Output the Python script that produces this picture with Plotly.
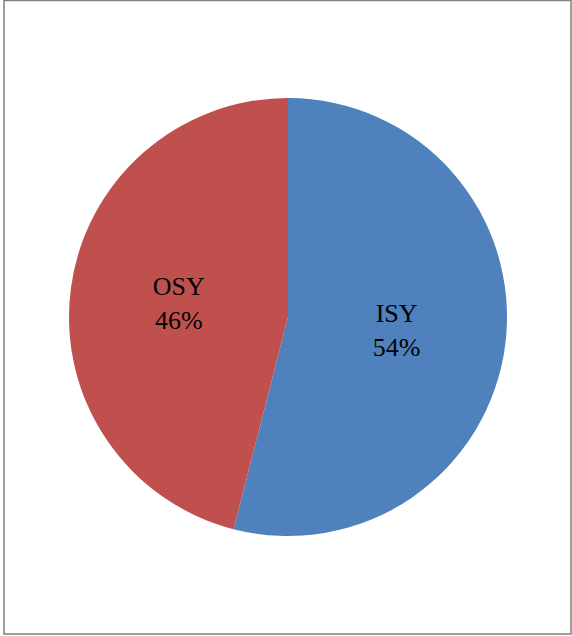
import plotly.graph_objects as go

labels = ["ISY", "OSY"]
values = [54, 46]
colors = ["#4F81BD", "#C0504D"]

fig = go.Figure(go.Pie(
    labels=labels,
    values=values,
    marker=dict(colors=colors, line=dict(width=0)),
    sort=False,
    direction="clockwise",
    rotation=0,
    textinfo="label+percent",
    texttemplate="%{label}<br>%{percent:.0%}",
    textposition="inside",
    insidetextorientation="horizontal",
    insidetextfont=dict(family="Liberation Serif, DejaVu Serif, serif", size=26, color="black"),
    hoverinfo="skip",
    domain=dict(x=[0.1206, 0.8864], y=[0.1572, 0.8459]),
    showlegend=False,
))

fig.update_layout(
    width=572, height=636,
    margin=dict(l=0, r=0, t=0, b=0),
    paper_bgcolor="white",
    plot_bgcolor="white",
    shapes=[dict(type="rect", xref="paper", yref="paper",
                 x0=4/572, x1=571/572, y0=1-634/636, y1=1-0.5/636,
                 line=dict(color="#808080", width=1.5), fillcolor="rgba(0,0,0,0)")],
)

fig.write_html(
    "out.html",
    config={"displayModeBar": False},
    post_script="document.body.style.margin='0';document.body.style.overflow='hidden';",
)
